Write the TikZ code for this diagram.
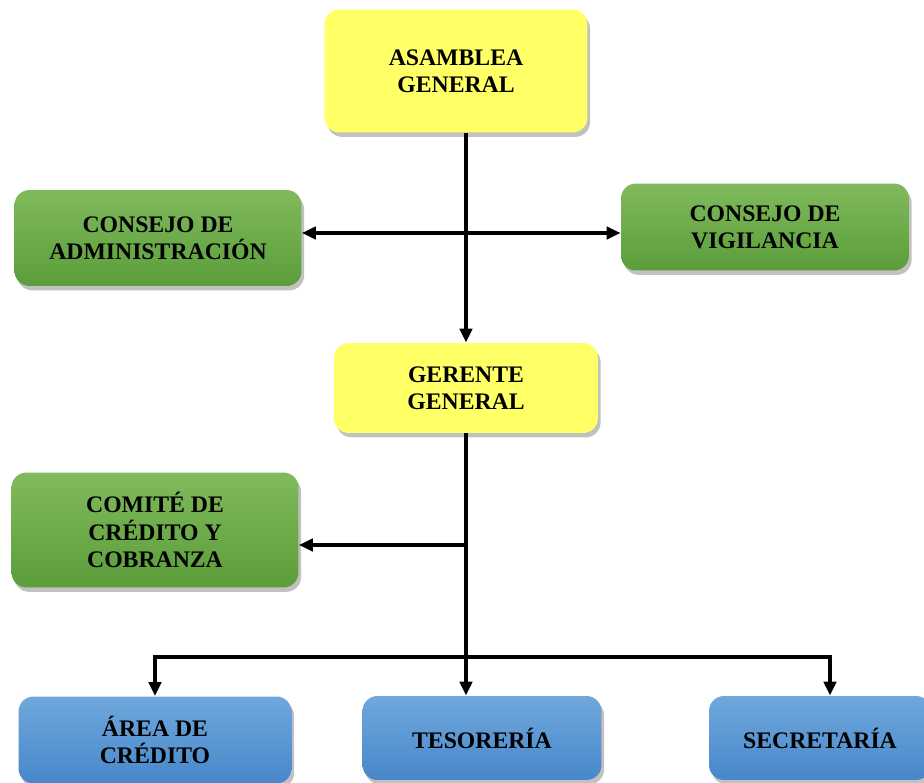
\documentclass[tikz,border=0pt]{standalone}
\usepackage{fontspec}
\setmainfont{Liberation Serif}
\usetikzlibrary{arrows.meta,shadows}
\definecolor{amarillo}{HTML}{FFFF66}
\definecolor{verdeA}{HTML}{80BA5C}
\definecolor{verdeB}{HTML}{5B9D3A}
\definecolor{azulA}{HTML}{70A8DD}
\definecolor{azulB}{HTML}{4787CA}
\tikzset{
    caja/.style={rounded corners=0.3cm, align=center, inner sep=2pt,
        font=\fontsize{13.5}{15.5}\selectfont\bfseries,
        drop shadow={shadow xshift=1.5pt, shadow yshift=-2.5pt, opacity=0.35, fill=black!70}},
    conn/.style={line width=2pt, -{Triangle[length=8pt,width=7pt]}},
}
\begin{document}
\begin{tikzpicture}[x=0.02cm,y=-0.02cm]
            \useasboundingbox (0,0) rectangle (924,783);
            \begin{scope}[every node/.style={caja,fill=amarillo}]
                \node[minimum width=5.26cm, minimum height=2.46cm] (asamblea) at (456,71) {ASAMBLEA\\GENERAL};
                \node[minimum width=5.28cm, minimum height=1.80cm] (gerente) at (466,388) {GERENTE\\GENERAL};
            \end{scope}
            \begin{scope}[every node/.style={caja,top color=verdeA,bottom color=verdeB}]
                \node[minimum width=5.74cm, minimum height=1.92cm] (admin) at (158,238) {CONSEJO DE\\ADMINISTRACIÓN};
                \node[minimum width=5.76cm, minimum height=1.74cm] (vigil) at (765,227) {CONSEJO DE\\VIGILANCIA};
                \node[minimum width=5.74cm, minimum height=2.30cm] (comite) at (155,530) {COMITÉ DE\\CRÉDITO Y\\COBRANZA};
            \end{scope}
            \begin{scope}[every node/.style={caja,top color=azulA,bottom color=azulB}]
                \node[minimum width=5.46cm, minimum height=1.74cm] (area) at (155,740) {ÁREA DE\\CRÉDITO};
                \node[minimum width=4.78cm, minimum height=1.68cm] (teso) at (482,738) {TESORERÍA};
                \node[minimum width=4.44cm, minimum height=1.68cm] (secre) at (820,738) {SECRETARÍA};
            \end{scope}

            % puntos de union
            \coordinate (h1) at (468,233);
            \coordinate (c1) at (466,545);
            \coordinate (b1) at (466,657);
            \coordinate (b2) at (830,657);

            \draw[conn] (asamblea.south -| gerente.north) -- (gerente.north);
            \draw[conn, {Triangle[length=8pt,width=7pt]}-{Triangle[length=8pt,width=7pt]}] (admin.east |- h1) -- (vigil.west |- h1);
            \draw[conn] (gerente.south) -- (gerente.south |- teso.north);
            \draw[conn] (c1) -- (c1 -| comite.east);
            \draw[conn] (b1) -| (area.north);
            \draw[conn] (b1) -- (b2) -- (b2 |- secre.north);
        \end{tikzpicture}
\end{document}
